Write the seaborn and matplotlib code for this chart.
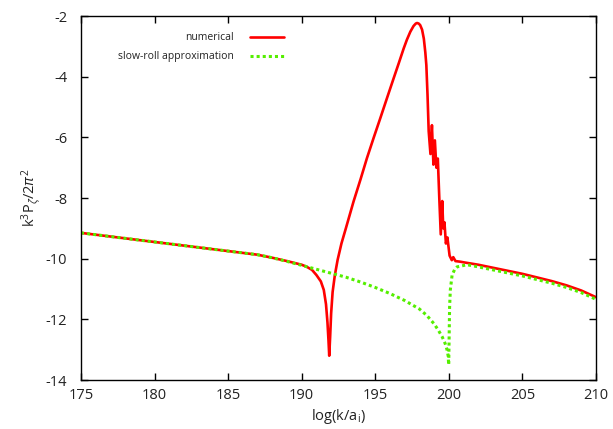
import matplotlib
matplotlib.use("Agg")
import matplotlib.pyplot as plt
import seaborn as sns
import pandas as pd

# ---- data ----
num_x = [175, 177, 179, 181, 183, 185, 187, 188, 189, 190, 190.35, 190.7, 191.0,
         191.3, 191.5, 191.65, 191.75, 191.82, 191.87, 191.93, 192.0, 192.1, 192.25,
         192.44, 192.7, 193.0, 193.52, 194.0, 194.43, 194.9, 195.34, 195.8, 196.25,
         196.6, 196.93, 197.15, 197.38, 197.6, 197.75, 197.84, 197.95, 198.05, 198.18,
         198.3, 198.4, 198.47, 198.55, 198.63, 198.75, 198.85, 198.95, 199.05, 199.15,
         199.25, 199.35, 199.45, 199.55, 199.62, 199.7, 199.8, 199.9, 200.05, 200.2,
         200.3, 200.45, 200.78, 201, 202, 203, 204, 205, 206, 207, 208, 209, 210]
num_y = [-9.15, -9.27, -9.39, -9.51, -9.63, -9.75, -9.87, -9.97, -10.08, -10.2, -10.27,
         -10.37, -10.54, -10.75, -11.03, -11.5, -12.1, -12.7, -13.2, -12.6, -11.8, -11.1,
         -10.55, -10.04, -9.5, -9.0, -8.12, -7.38, -6.69, -6.0, -5.37, -4.7, -4.05,
         -3.55, -3.07, -2.78, -2.52, -2.33, -2.25, -2.23, -2.25, -2.3, -2.45,
         -2.75, -3.2, -3.62, -4.6, -5.8, -6.55, -5.6, -6.9, -6.1, -7.0,
         -6.7, -8.0, -9.2, -8.1, -9.0, -8.8, -9.5, -9.3, -9.9, -10.05,
         -9.95, -10.08, -10.1, -10.12, -10.2, -10.3, -10.4, -10.5, -10.62, -10.74,
         -10.88, -11.05, -11.27]

sr_x = [175, 177, 179, 181, 183, 185, 187, 188, 189, 190, 191, 192, 193, 194, 195,
        196, 197, 198, 198.5, 199, 199.3, 199.55, 199.75, 199.88, 199.95, 199.99,
        200.05, 200.1, 200.22, 200.4, 200.56, 201.24, 202, 203, 204, 205, 206, 207,
        208, 209, 210]
sr_y = [-9.15, -9.27, -9.39, -9.51, -9.63, -9.75, -9.87, -9.97, -10.09, -10.22,
        -10.35, -10.48, -10.61, -10.77, -10.95, -11.15, -11.38, -11.66, -11.87, -12.15,
        -12.37, -12.58, -12.8, -13.01, -13.2, -13.5, -11.6, -11.03, -10.54, -10.35,
        -10.27, -10.2, -10.27, -10.37, -10.47, -10.57, -10.69, -10.81, -10.95, -11.12,
        -11.34]

labels = ["numerical", "slow-roll approximation"]
x_ticks = [175, 180, 185, 190, 195, 200, 205, 210]
y_ticks = [-14, -12, -10, -8, -6, -4, -2]

sns.set_theme(style="white")
plt.rcParams['font.family'] = ['Open Sans', 'DejaVu Sans']
plt.rcParams['mathtext.fontset'] = 'custom'
plt.rcParams['mathtext.rm'] = 'Open Sans'
plt.rcParams['mathtext.it'] = 'Open Sans:italic'

fig = plt.figure(figsize=(6.13, 4.29), dpi=100)
ax = fig.add_axes([81/613, 49/429, 515/613, 364/429])

df_num = pd.DataFrame({"x": num_x, "y": num_y})
df_sr = pd.DataFrame({"x": sr_x, "y": sr_y})

sns.lineplot(data=df_num, x="x", y="y", ax=ax, color="#ff0000", lw=1.9,
             sort=False, estimator=None, label=labels[0])
sns.lineplot(data=df_sr, x="x", y="y", ax=ax, color="#55ee00", lw=2.2,
             sort=False, estimator=None, label=labels[1])
ax.lines[0].set_solid_joinstyle("round")
ax.lines[1].set_dashes((1, 1))
ax.lines[1].set_dash_capstyle("butt")

ax.set_xlim(175, 210)
ax.set_ylim(-14, -2)
ax.set_xticks(x_ticks)
ax.set_yticks(y_ticks)
ax.set_xticklabels([str(t) for t in x_ticks])
ax.set_yticklabels([str(t) for t in y_ticks])
ax.tick_params(direction="in", length=5, width=1, color="black",
               top=True, right=True, bottom=True, left=True,
               labelsize=10.5, labelcolor="#222222", pad=6)
ax.tick_params(axis="y", pad=10)
for s in ax.spines.values():
    s.set_color("black")
    s.set_linewidth(1.0)

ax.set_xlabel(r"log(k/a$_\mathrm{i}$)", fontsize=10.5, color="#222222", labelpad=3)
ax.set_ylabel(r"k$^3$P$_\zeta$/2$\pi^2$", fontsize=10.5, color="#222222", labelpad=1)

handles, _ = ax.get_legend_handles_labels()
leg = ax.legend(handles, labels, loc="upper right", bbox_to_anchor=(0.395, 0.955),
                frameon=False, markerfirst=False, fontsize=7.5, handlelength=3.3,
                handletextpad=1.6, labelspacing=0.75, borderpad=0, borderaxespad=0)
for t in leg.get_texts():
    t.set_color("#222222")

fig.savefig("out.png", dpi=100)
